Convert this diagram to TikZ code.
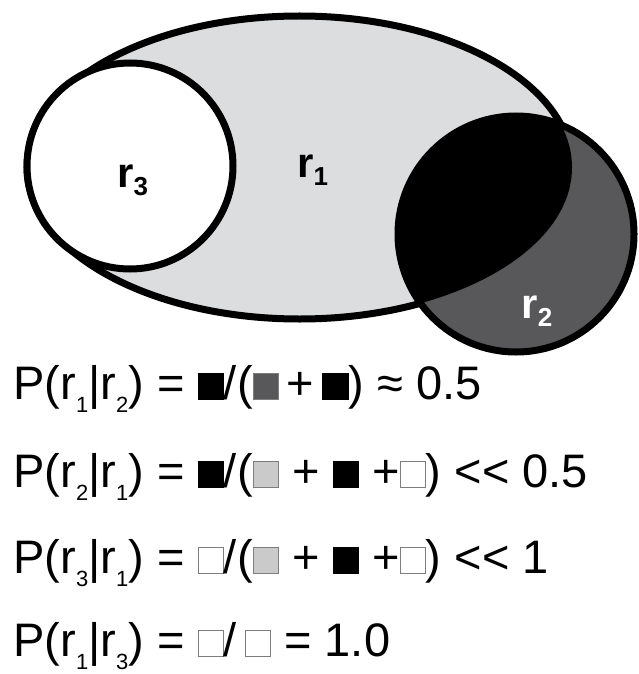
\documentclass[tikz,border=0pt]{standalone}
\usepackage{fontspec}
\setmainfont{Liberation Sans}
\usepackage{tikz}
\definecolor{Lgray}{RGB}{219,221,223}
\definecolor{Dgray}{RGB}{88,88,90}
\definecolor{Sgray}{RGB}{202,202,202}
\definecolor{Edge}{RGB}{125,125,125}
\setlength{\fboxsep}{0pt}
\setlength{\fboxrule}{0.6pt}
\newcommand{\sq}[2]{\fcolorbox{#1}{#2}{\rule{0pt}{12.5pt}\rule{12pt}{0pt}}}
\newcommand{\dn}[1]{\raisebox{-6.5pt}{\fontsize{11}{11}\selectfont #1}}
\newcommand{\ldn}[1]{\raisebox{-4pt}{\fontsize{13}{13}\selectfont #1}}

\begin{document}
\begin{tikzpicture}[x=0.5pt,y=-0.5pt,line cap=round,
  rim/.style={line width=3.5pt},
  eqn/.style={anchor=base west,inner sep=0pt,font=\fontsize{23.5}{28}\selectfont},
  lbl/.style={anchor=base west,inner sep=0pt,font=\bfseries\fontsize{21}{24}\selectfont}]
\path[use as bounding box] (0,0) rectangle (638,674);
% r1 region, r2 region and their overlap
\fill[Lgray] (299.5,167.5) ellipse[x radius=272.5,y radius=151.5];
\draw[rim] (299.5,167.5) ellipse[x radius=272.5,y radius=151.5];
\fill[Dgray] (516,234) circle[radius=118];
\begin{scope}
\clip (516,234) circle[radius=118];
\fill[black] (299.5,167.5) ellipse[x radius=272.5,y radius=151.5];
\end{scope}
\draw[rim] (516,234) circle[radius=118];
% r3 region
\draw[rim,fill=white] (130,166) circle[radius=103];
\node[lbl] (r1) at (297,177) {r\ldn{1}};
\node[lbl] (r3) at (117,187) {r\ldn{3}};
\node[lbl,text=white] (r2) at (521,318) {r\ldn{2}};
% conditional probabilities
\node[eqn] (p12) at (13,399) {P(r\dn{1}|r\dn{2}) = \sq{black}{black}/(\sq{Edge}{Dgray}\,+\,\sq{black}{black}) ≈ 0.5};
\node[eqn] (p21) at (13,487) {P(r\dn{2}|r\dn{1}) = \sq{black}{black}/(\sq{Edge}{Sgray} + \sq{black}{black} +\sq{Edge}{white}) <\kern0pt< 0.5};
\node[eqn] (p31) at (13,573) {P(r\dn{3}|r\dn{1}) = \sq{Edge}{white}/(\sq{Edge}{Sgray} + \sq{black}{black} +\sq{Edge}{white}) <\kern0pt< 1};
\node[eqn] (p13) at (13,656) {P(r\dn{1}|r\dn{3}) = \sq{Edge}{white}/\,\sq{Edge}{white} = 1.0};
\end{tikzpicture}
\end{document}
